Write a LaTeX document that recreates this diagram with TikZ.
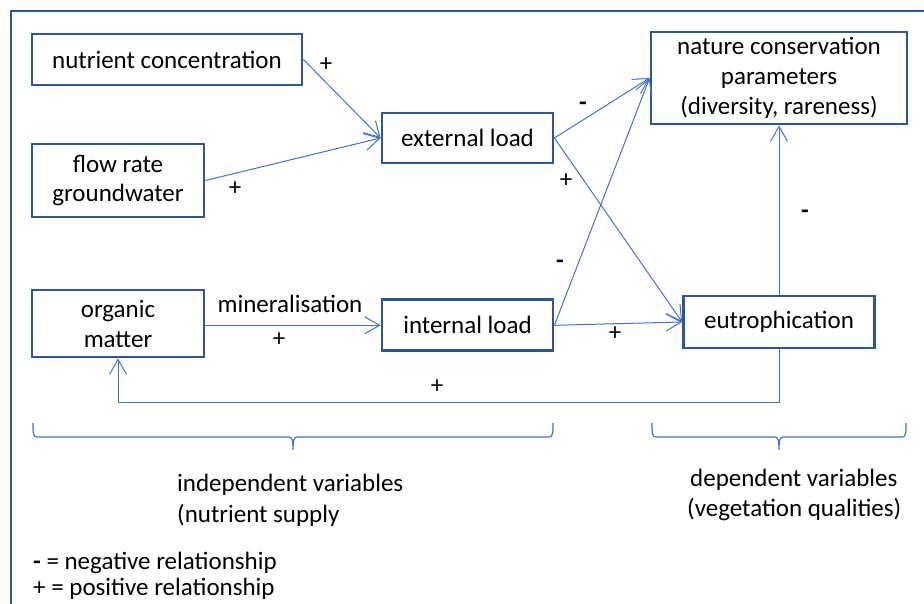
\documentclass[tikz,border=0pt]{standalone}
\usepackage{fontspec}
\setmainfont{Carlito}
\usetikzlibrary{arrows.meta, positioning}
\definecolor{boxblue}{RGB}{47,85,151}
\definecolor{lineblue}{RGB}{68,114,196}

\begin{document}
\begin{tikzpicture}[
        x=1pt, y=-1pt,
        node distance=20pt,
        every node/.style={font=\fontsize{25}{30}\selectfont},
        box/.style={rectangle, draw=boxblue, line width=2.8pt, fill=white, inner sep=0pt, align=center},
        arr/.style={-{Straight Barb[length=15pt,width=17pt]}, draw=lineblue, line width=1pt},
        sign/.style={inner sep=0pt},
        txt/.style={inner sep=0pt, anchor=base west},
        brace/.style={draw=lineblue, line width=1.2pt}
    ]
        \useasboundingbox (0,0) rectangle (924,604);
        \draw[boxblue, line width=2.6pt] (11,604) -- (11,11) -- (924,11);

        % boxes
        \node[box, minimum width=270pt, minimum height=51pt] (nutrient) at (167,59.5) {nutrient concentration};
        \node[box, minimum width=172pt, minimum height=73pt] (flow) at (118,180.5) {flow rate\\[-1pt]groundwater};
        \node[box, minimum width=172pt, minimum height=67pt] (organic) at (118,323.5) {organic\\matter};
        \node[box, minimum width=171pt, minimum height=50pt] (external) at (467.5,138) {external load};
        \node[box, minimum width=171pt, minimum height=51pt, below=134pt of external] (internal) {internal load};
        \node[box, minimum width=256pt, minimum height=92pt] (nature) at (779,78) {nature conservation\\parameters\\(diversity, rareness)};
        \node[box, minimum width=191pt, minimum height=52pt] (eutro) at (779,322) {eutrophication};

        % relations
        \draw[arr] (nutrient.east) -- (external.west);
        \draw[arr] (flow.east) -- (external.west);
        \draw[arr] (organic.east |- internal.west) -- (internal.west);
        \draw[arr] (external.east) -- (nature.west);
        \draw[arr] (external.east) -- (eutro.west);
        \draw[arr] (internal.east) -- (nature.west);
        \draw[arr] (internal.east) -- (eutro.west);
        \draw[arr] (eutro.north) -- (nature.south);
        \draw[arr] (eutro.south) -- ++(0,53) -| (organic.south);

        % signs
        \node[sign] (s1) at (326,65) {+};
        \node[sign] (s2) at (235,189) {+};
        \node[sign] (s3) at (583,106) {\textbf{-}};
        \node[sign] (s4) at (566,181) {+};
        \node[sign] (s5) at (560,264) {\textbf{-}};
        \node[sign] (s6) at (615,334) {+};
        \node[sign] (s7) at (805,214) {\textbf{-}};
        \node[sign] (minlab) at (290,304) {mineralisation};
        \node[sign] (s8) at (279,340) {+};
        \node[sign] (s9) at (437,387) {+};

        % braces
        \foreach \a/\m/\b in {33/293/553, 652/779/906} {
            \draw[brace] (\a,423) .. controls (\a,433) and (\a,437) .. (\a+4,437) -- (\m-4,437)
                .. controls (\m-1,437) and (\m,440) .. (\m,450)
                .. controls (\m,440) and (\m+1,437) .. (\m+4,437) -- (\b-4,437)
                .. controls (\b,437) and (\b,433) .. (\b,423);
        }

        % group texts
        \node[txt] (indep) at (177,491) {independent variables};
        \node[txt] (supply) at (177,522) {(nutrient supply};
        \node[txt] (dep) at (690,486) {dependent variables};
        \node[txt] (veg) at (687,516) {(vegetation qualities)};

        % legend
        \node[txt] (negleg) at (33,569) {\textbf{-} = negative relationship};
        \node[txt] (posleg) at (33,595) {+ = positive relationship};
    \end{tikzpicture}
\end{document}
